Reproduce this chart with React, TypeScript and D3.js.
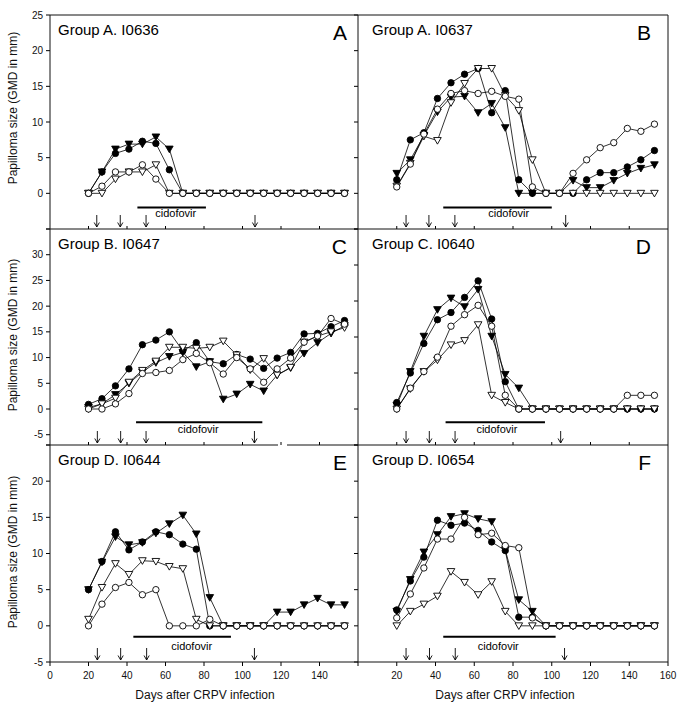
import React from "react";
import * as d3 from "d3";

// ---------------- data ----------------
const days = [20, 27, 34, 41, 48, 55, 62, 69, 76, 83, 90, 97, 104, 111, 118, 125, 132, 139, 146, 153];

const aFilledCircle = [0, 3.0, 5.6, 6.2, 7.3, 7.0, 3.3, 0, 0, 0, 0, 0, 0, 0, 0, 0, 0, 0, 0, 0];
const aOpenCircle = [0, 1.0, 3.0, 3.0, 4.0, 2.0, 0, 0, 0, 0, 0, 0, 0, 0, 0, 0, 0, 0, 0, 0];
const aFilledTri = [0, 3.0, 6.2, 6.9, 6.9, 7.9, 6.2, 0, 0, 0, 0, 0, 0, 0, 0, 0, 0, 0, 0, 0];
const aOpenTri = [0, 0, 2.0, 3.0, 3.0, 4.0, 0, 0, 0, 0, 0, 0, 0, 0, 0, 0, 0, 0, 0, 0];

const bFilledCircle = [1.9, 7.5, 8.5, 13.3, 15.5, 16.7, 17.5, 11.3, 14.4, 1.9, 0, 0, 0, 0, 1.9, 2.9, 2.9, 3.7, 4.7, 6.0];
const bOpenCircle = [0.9, 4.1, 8.3, 11.8, 14.0, 14.4, 14.0, 14.3, 13.6, 13.2, 0.9, 0, 0, 2.8, 4.7, 6.4, 7.1, 9.1, 8.7, 9.7];
const bFilledTri = [2.8, 4.7, 8.1, 11.4, 13.5, 13.6, 11.3, 12.6, 9.2, 0, 0, 0, 0, 1.8, 0.8, 0.8, 1.8, 2.8, 3.5, 4.0];
const bOpenTri = [1.0, 4.2, 8.0, 7.4, 12.7, 15.4, 17.5, 17.5, 13.7, 11.6, 4.7, 0, 0, 0, 0, 0, 0, 0, 0, 0];

const cFilledCircle = [0.9, 2.0, 4.5, 7.8, 12.5, 13.4, 15.0, 11.3, 12.9, 9.2, 8.8, 10.6, 9.7, 7.9, 9.9, 11.0, 14.6, 14.7, 16.0, 17.2];
const cOpenCircle = [0, 0, 1.0, 3.0, 6.9, 7.1, 7.5, 9.6, 10.8, 9.0, 6.8, 10.0, 7.8, 5.2, 7.8, 9.9, 13.0, 14.2, 17.6, 16.5];
const cFilledTri = [0.3, 1.0, 2.8, 5.0, 7.2, 9.0, 10.2, 11.0, 8.2, 9.2, 1.9, 2.9, 4.8, 3.5, 6.6, 8.0, 10.8, 12.9, 14.7, 16.2];
const cOpenTri = [0, 1.0, 2.1, 5.2, 7.5, 9.3, 12.0, 12.0, 11.8, 12.0, 13.2, 10.5, 7.6, 9.8, 6.6, 8.1, 13.0, 14.2, 15.0, 15.8];

const dFilledCircle = [0.9, 5.0, 9.1, 12.4, 13.4, 15.5, 17.8, 12.5, 3.8, 0, 0, 0, 0, 0, 0, 0, 0, 0, 0, 0];
const dOpenCircle = [0, 2.9, 5.2, 7.2, 11.5, 13.1, 14.4, 11.5, 1.9, 0, 0, 0, 0, 0, 0, 0, 0, 1.9, 1.9, 1.9];
const dFilledTri = [0.5, 5.2, 10.1, 13.8, 15.4, 14.2, 16.6, 10.1, 4.8, 2.9, 0, 0, 0, 0, 0, 0, 0, 0, 0, 0];
const dOpenTri = [0, 2.8, 5.2, 6.8, 8.9, 9.5, 11.7, 1.9, 0.9, 0, 0, 0, 0, 0, 0, 0, 0, 0, 0, 0];

const eFilledCircle = [5.0, 8.9, 13.0, 10.5, 11.6, 13.0, 12.6, 11.3, 10.6, 0, 0, 0, 0, 0, 0, 0, 0, 0, 0, 0];
const eOpenCircle = [0, 3.0, 5.3, 6.0, 4.3, 5.0, 0, 0, 0, 0.9, 0, 0, 0, 0, 0, 0, 0, 0, 0, 0];
const eFilledTri = [5.0, 8.8, 12.3, 11.2, 11.5, 12.8, 14.1, 15.3, 12.7, 3.9, 0, 0, 0, 0, 1.9, 1.9, 2.9, 3.8, 2.9, 2.9];
const eOpenTri = [0.9, 5.3, 8.6, 7.1, 9.0, 8.9, 8.2, 7.9, 0.9, 0, 0, 0, 0, 0, 0, 0, 0, 0, 0, 0];

const fFilledCircle = [2.2, 6.2, 9.5, 14.6, 13.9, 14.2, 13.2, 11.6, 10.4, 1.2, 1.2, 0, 0, 0, 0, 0, 0, 0, 0, 0];
const fOpenCircle = [1.1, 4.4, 8.0, 12.0, 12.0, 15.0, 12.6, 12.8, 11.1, 10.8, 1.1, 0, 0, 0, 0, 0, 0, 0, 0, 0];
const fFilledTri = [2.0, 6.4, 10.2, 12.6, 15.1, 15.5, 14.8, 14.4, 10.5, 3.6, 2.0, 0, 0, 0, 0, 0, 0, 0, 0, 0];
const fOpenTri = [0, 2.0, 3.0, 4.1, 7.5, 6.0, 4.3, 6.1, 2.0, 0, 0, 0, 0, 0, 0, 0, 0, 0, 0, 0];

const titles = ["Group A. I0636", "Group A. I0637", "Group B. I0647", "Group C. I0640", "Group D. I0644", "Group D. I0654"];
const letters = ["A", "B", "C", "D", "E", "F"];
const yDomains: [number, number][] = [[-5, 25], [-5, 25], [-7, 35], [-5, 25], [-5, 25], [-5, 25]];
const yTickVals = [
  [-5, 0, 5, 10, 15, 20, 25],
  [-5, 0, 5, 10, 15, 20, 25],
  [-5, 0, 5, 10, 15, 20, 25, 30],
  [-5, 0, 5, 10, 15, 20, 25],
  [-5, 0, 5, 10, 15, 20, 25],
  [-5, 0, 5, 10, 15, 20, 25],
];
const yLabelVals = [[0, 5, 10, 15, 20, 25], [], [-5, 0, 5, 10, 15, 20, 25, 30], [], [-5, 0, 5, 10, 15, 20], []];
const xTickVals = [20, 40, 60, 80, 100, 120, 140];
const xLabelsLeft = [0, 20, 40, 60, 80, 100, 120, 140];
const xLabelsRight = [20, 40, 60, 80, 100, 120, 140, 160];

const cidoStart = [45.4, 44, 44.7, 45.2, 43.3, 44];
const cidoEnd = [81, 100, 110.3, 96.5, 94, 102];
const cidoY = [-2.0, -2.0, -2.6, -1.85, -1.5, -1.5];
const cidoTextDay = [65.3, 77.8, 77, 71.7, 73.6, 72.4];
const cidoTextY = [-3.3, -3.3, -4.65, -3.35, -3.4, -3.4];

const arrowDays = [
  [24.3, 36.5, 49.9, 106.5],
  [24.8, 36.6, 50, 107.2],
  [24.6, 36.7, 49.9, 106.2],
  [24.8, 36.8, 50.1, 104.6],
  [24.6, 36.7, 50.2, 106.2],
  [24.8, 36.9, 50.2, 106.6],
];

const seriesData = [
  [aFilledCircle, aOpenCircle, aFilledTri, aOpenTri],
  [bFilledCircle, bOpenCircle, bFilledTri, bOpenTri],
  [cFilledCircle, cOpenCircle, cFilledTri, cOpenTri],
  [dFilledCircle, dOpenCircle, dFilledTri, dOpenTri],
  [eFilledCircle, eOpenCircle, eFilledTri, eOpenTri],
  [fFilledCircle, fOpenCircle, fFilledTri, fOpenTri],
];
// marker kinds in the same order as the series above
const markerKinds = ["filledCircle", "openCircle", "filledTri", "openTri"];

// ---------------- layout ----------------
const W = 679;
const H = 707;
const COLS: [number, number][] = [[50, 358], [358, 668]];
const ROWS: [number, number][] = [[15, 229], [229, 445], [445, 662]];
const FONT = "'Liberation Sans', Arial, Helvetica, sans-serif";

function Marker({ kind, x, y }: { kind: string; x: number; y: number }) {
  if (kind === "filledCircle" || kind === "openCircle") {
    return (
      <circle cx={x} cy={y} r={3.2} fill={kind === "filledCircle" ? "#000" : "#fff"} stroke="#000" strokeWidth={0.9} />
    );
  }
  const w = 3.8;
  const d = `M${x - w},${y - 3.0}L${x + w},${y - 3.0}L${x},${y + 3.6}Z`;
  return <path d={d} fill={kind === "filledTri" ? "#000" : "#fff"} stroke="#000" strokeWidth={0.9} strokeLinejoin="round" />;
}

function Panel({ i }: { i: number }) {
  const col = i % 2;
  const row = Math.floor(i / 2);
  const [x0, x1] = COLS[col];
  const [y0, y1] = ROWS[row];
  const x = d3.scaleLinear().domain([0, 160]).range([x0, x1]);
  const y = d3.scaleLinear().domain(yDomains[i]).range([y1, y0]);
  const line = d3
    .line<number>()
    .x((_, k) => x(days[k]))
    .y((v) => y(v));
  const series = seriesData[i];
  const isBottom = row === 2;
  // filled first, open markers on top
  const drawOrder = [2, 0, 3, 1];

  return (
    <g>
      {yTickVals[i].map((t) => (
        <line key={"yt" + t} x1={x0 - 4} x2={x0} y1={y(t)} y2={y(t)} stroke="#000" strokeWidth={1} />
      ))}
      {yLabelVals[i].map((t) => (
        <text key={"yl" + t} x={x0 - 7} y={y(t)} dy="0.35em" textAnchor="end" fontSize={10} fontFamily={FONT} fill="#111">
          {t}
        </text>
      ))}
      {xTickVals.map((t) => (
        <line
          key={"xt" + t}
          x1={x(t)}
          x2={x(t)}
          y1={y1}
          y2={isBottom ? y1 + 4 : y1 - 3}
          stroke="#000"
          strokeWidth={1}
        />
      ))}
      {isBottom &&
        (col === 0 ? xLabelsLeft : xLabelsRight).map((t) => (
          <text key={"xl" + t} x={x(t)} y={y1 + 17} textAnchor="middle" fontSize={10} fontFamily={FONT} fill="#111">
            {t}
          </text>
        ))}
      {isBottom && <line x1={x(0)} x2={x(0)} y1={y1} y2={y1 + 4} stroke="#000" strokeWidth={1} />}
      {isBottom && col === 1 && (
        <line x1={x(160)} x2={x(160)} y1={y1} y2={y1 + 4} stroke="#000" strokeWidth={1} />
      )}

      <text x={x0 + (col === 0 ? 8 : 14)} y={y0 + 20} fontSize={15} fontFamily={FONT} fill="#000">
        {titles[i]}
      </text>
      <text x={x1 - (col === 0 ? 11 : 17)} y={y0 + 25} textAnchor="end" fontSize={21} fontFamily={FONT} fill="#000">
        {letters[i]}
      </text>

      <line
        x1={x(cidoStart[i])}
        x2={x(cidoEnd[i])}
        y1={y(cidoY[i])}
        y2={y(cidoY[i])}
        stroke="#000"
        strokeWidth={2}
      />
      <text x={x(cidoTextDay[i])} y={y(cidoTextY[i])} textAnchor="middle" fontSize={11} fontFamily={FONT} fill="#000">
        cidofovir
      </text>

      {arrowDays[i].map((d, k) => {
        const ax = x(d);
        const top = y1 - 14;
        const tip = y1 - 2;
        return (
          <g key={"ar" + k} stroke="#000" strokeWidth={0.9} fill="none">
            <line x1={ax} x2={ax} y1={top} y2={tip} />
            <path d={`M${ax - 2.6},${tip - 4.5}L${ax},${tip}L${ax + 2.6},${tip - 4.5}`} />
          </g>
        );
      })}

      {drawOrder.map((s) => (
        <path key={"ln" + s} d={line(series[s]) || ""} fill="none" stroke="#000" strokeWidth={0.8} />
      ))}
      {drawOrder.map((s) => (
        <g key={"mk" + s}>
          {series[s].map((v, k) => (
            <Marker key={k} kind={markerKinds[s]} x={x(days[k])} y={y(v)} />
          ))}
        </g>
      ))}
    </g>
  );
}

export default function App() {
  const panelIdx = [0, 1, 2, 3, 4, 5];
  const yTitleCenters = [108, 335, 552];
  return (
    <svg
      width={W}
      height={H}
      viewBox={`0 0 ${W} ${H}`}
      style={{ position: "absolute", left: 0, top: 0, background: "#fff" }}
    >
      <rect x={0} y={0} width={W} height={H} fill="#fff" />
      {panelIdx.map((i) => (
        <Panel key={i} i={i} />
      ))}
      <g stroke="#111" strokeWidth={1} fill="none">
        <line x1={COLS[0][0]} x2={COLS[1][1]} y1={ROWS[0][0]} y2={ROWS[0][0]} />
        <line x1={COLS[0][0] - 4} x2={COLS[1][1]} y1={ROWS[1][0]} y2={ROWS[1][0]} />
        <line x1={COLS[0][0] - 4} x2={278} y1={ROWS[2][0]} y2={ROWS[2][0]} />
        <line x1={287} x2={COLS[1][1]} y1={ROWS[2][0]} y2={ROWS[2][0]} />
        <line x1={COLS[0][0]} x2={COLS[1][1]} y1={ROWS[2][1]} y2={ROWS[2][1]} />
        <line x1={COLS[0][0]} x2={COLS[0][0]} y1={ROWS[0][0]} y2={ROWS[2][1]} />
        <line x1={COLS[1][0]} x2={COLS[1][0]} y1={ROWS[0][0]} y2={ROWS[2][1]} />
        <line x1={COLS[1][1]} x2={COLS[1][1]} y1={ROWS[0][0]} y2={ROWS[2][1]} />
      </g>
      {yTitleCenters.map((cy, k) => (
        <text
          key={"yt" + k}
          transform={`translate(17,${cy}) rotate(-90)`}
          textAnchor="middle"
          fontSize={12}
          fontFamily={FONT}
          fill="#111"
        >
          Papilloma size (GMD in mm)
        </text>
      ))}
      <text x={205} y={699} textAnchor="middle" fontSize={12} fontFamily={FONT} fill="#111">
        Days after CRPV infection
      </text>
      <text x={505} y={699} textAnchor="middle" fontSize={12} fontFamily={FONT} fill="#111">
        Days after CRPV infection
      </text>
    </svg>
  );
}
